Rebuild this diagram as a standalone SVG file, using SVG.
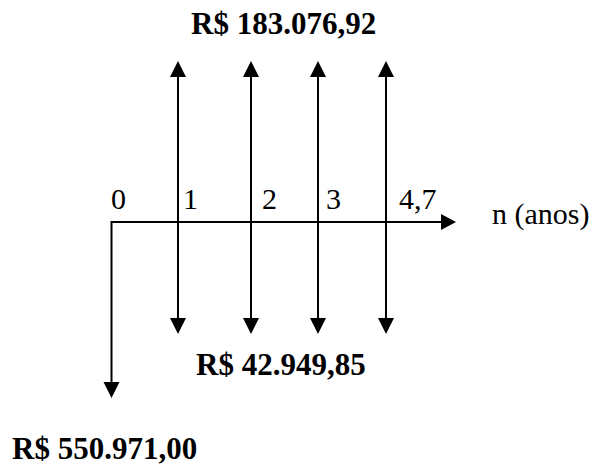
<svg xmlns="http://www.w3.org/2000/svg" width="598" height="468" viewBox="0 0 598 468">
<style>
.ln{stroke:#000;stroke-width:2;fill:none}
.hd{fill:#000;stroke:none}
.t{font-family:"Liberation Serif","Times New Roman",serif;font-size:30px;fill:#000}
.b{font-family:"Liberation Serif","Times New Roman",serif;font-size:31px;font-weight:bold;fill:#000}
</style>
<rect width="598" height="468" fill="#fff"/>
<g id="connectors">
<line class="ln" x1="111.5" y1="222" x2="443" y2="222"/>
<polygon class="hd" points="456,222 441,214 441,230"/>
<line class="ln" x1="111.5" y1="221" x2="111.5" y2="384"/>
<polygon class="hd" points="111.5,398 103.5,382 119.5,382"/>
<g id="flow1">
<line class="ln" x1="178" y1="74" x2="178" y2="321"/>
<polygon class="hd" points="178,61 170,77 186,77"/>
<polygon class="hd" points="178,334 170,318 186,318"/>
</g>
<g id="flow2">
<line class="ln" x1="251" y1="74" x2="251" y2="321"/>
<polygon class="hd" points="251,61 243,77 259,77"/>
<polygon class="hd" points="251,334 243,318 259,318"/>
</g>
<g id="flow3">
<line class="ln" x1="318" y1="74" x2="318" y2="321"/>
<polygon class="hd" points="318,61 310,77 326,77"/>
<polygon class="hd" points="318,334 310,318 326,318"/>
</g>
<g id="flow4">
<line class="ln" x1="386" y1="74" x2="386" y2="321"/>
<polygon class="hd" points="386,61 378,77 394,77"/>
<polygon class="hd" points="386,334 378,318 394,318"/>
</g>
</g>
<g id="label-top"><text class="b" x="191" y="34">R$ 183.076,92</text></g>
<g id="tick-0"><text class="t" x="111" y="209">0</text></g>
<g id="tick-1"><text class="t" x="183" y="209">1</text></g>
<g id="tick-2"><text class="t" x="262" y="209">2</text></g>
<g id="tick-3"><text class="t" x="326" y="209">3</text></g>
<g id="tick-47"><text class="t" x="399" y="209">4,7</text></g>
<g id="axis-label"><text class="t" x="492" y="224">n (anos)</text></g>
<g id="label-bottom"><text class="b" x="196" y="375">R$ 42.949,85</text></g>
<g id="label-initial"><text class="b" x="12" y="459">R$ 550.971,00</text></g>
</svg>
